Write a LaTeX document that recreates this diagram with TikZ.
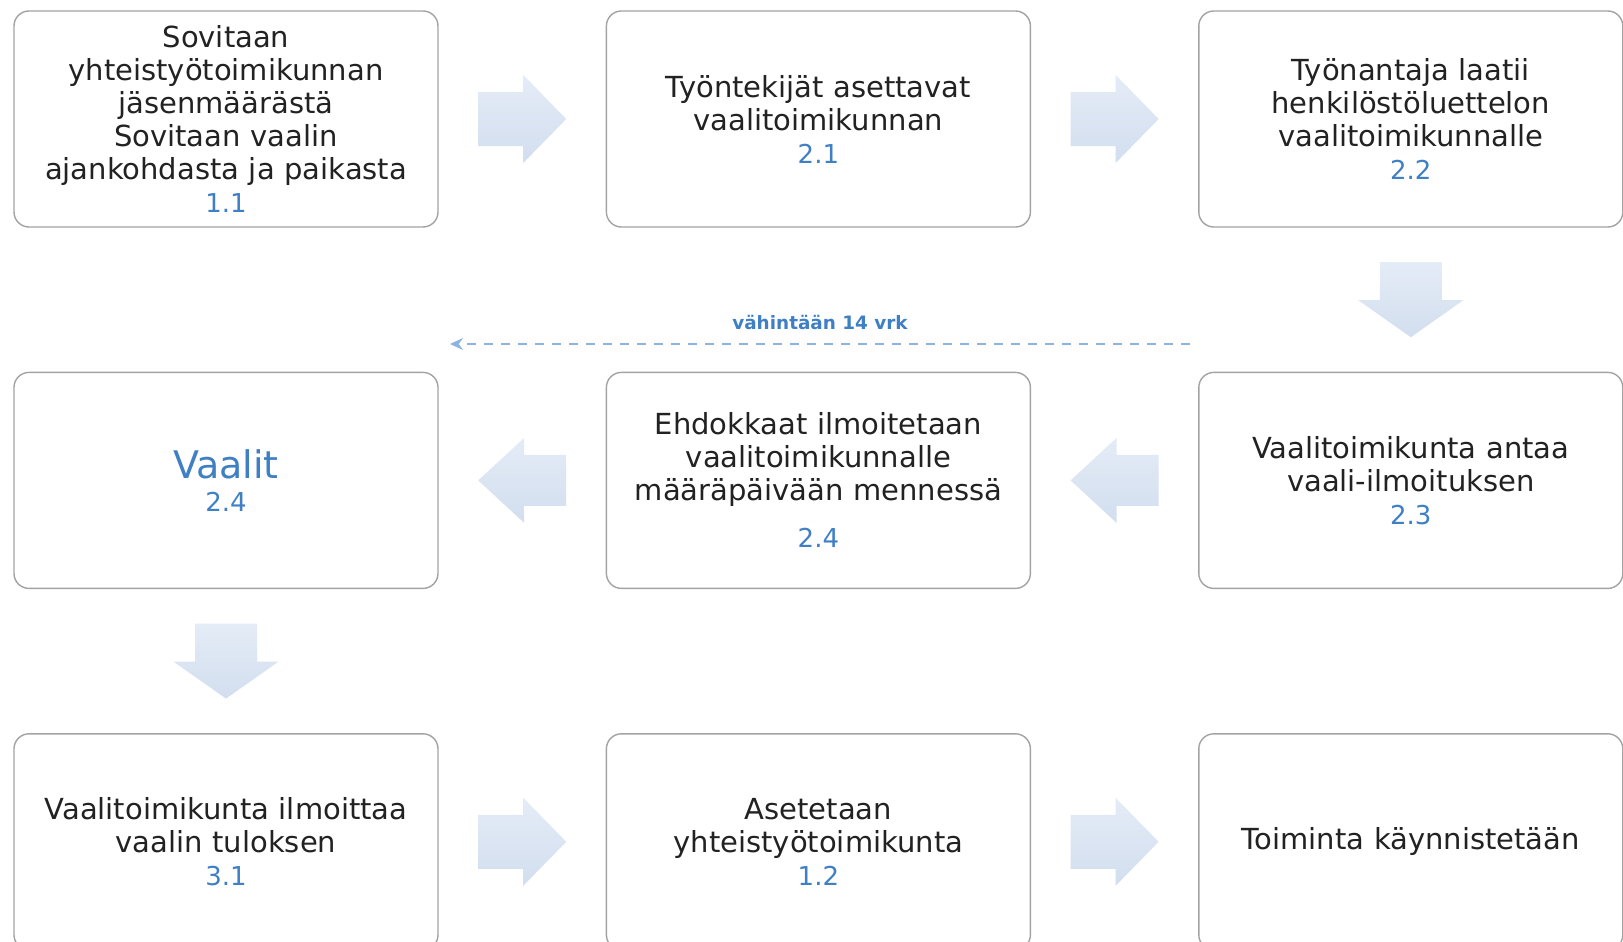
\documentclass[tikz,border=0pt]{standalone}
\usepackage{fontspec}
\setmainfont{DejaVu Sans}
\usepackage{tikz}
\usetikzlibrary{arrows.meta,positioning,calc}
\definecolor{reuna}{HTML}{A3A3A3}
\definecolor{teksti}{HTML}{222222}
\definecolor{nrosin}{HTML}{3F7FC4}
\definecolor{nuolivaal}{HTML}{E4ECF6}
\definecolor{nuolitum}{HTML}{D2DEEF}
\definecolor{katko}{HTML}{8DB3E2}
\newcommand{\nro}[1]{{\fontsize{13}{16.5}\selectfont\color{nrosin}#1}}
\tikzset{
  laatikko/.style={rectangle, rounded corners=7.5pt, draw=reuna, line width=0.7pt, fill=white,
                   text=teksti, align=center, text width=208pt, minimum width=212pt,
                   minimum height=108pt, inner sep=0pt, font=\fontsize{14.5}{16.5}\selectfont},
  nuolivari/.style={top color=nuolivaal, bottom color=nuolitum, draw=none},
  nuoliO/.pic={\shade[nuolivari] (-44,-27) -- (1,-27) -- (1,-44) -- (44,0) -- (1,44) -- (1,27) -- (-44,27) -- cycle;},
  nuoliV/.pic={\shade[nuolivari] (44,-25.5) -- (2,-25.5) -- (2,-42.5) -- (-44,0) -- (2,42.5) -- (2,25.5) -- (44,25.5) -- cycle;},
  nuoliA/.pic={\shade[nuolivari] (-31,37.5) -- (31,37.5) -- (31,-0.5) -- (52.5,-0.5) -- (0,-37.5) -- (-52.5,-0.5) -- (-31,-0.5) -- cycle;},
  katkoviiva/.style={-{Stealth[length=6.5pt,width=6pt]}, line width=1pt, draw=katko,
                     dash pattern=on 4.5pt off 4pt},
}

\begin{document}
\begin{tikzpicture}[x=0.5pt, y=0.5pt, node distance=72pt and 83.5pt]
  \useasboundingbox (0,0) rectangle (1623,-942);
  \fill[white] (0,0) rectangle (1623,-942);
  % rivi 1
  \node[laatikko] (a1) at (226,-119)
    {Sovitaan\\yhteistyötoimikunnan\\jäsenmäärästä\\Sovitaan vaalin\\ajankohdasta ja paikasta\\\nro{1.1}};
  \node[laatikko, right=of a1] (a2) {Työntekijät asettavat\\vaalitoimikunnan\\\nro{2.1}};
  \node[laatikko, right=of a2] (a3) {Työnantaja laatii\\henkilöstöluettelon\\vaalitoimikunnalle\\\nro{2.2}};
  % rivi 2
  \node[laatikko, below=of a3] (b3) {Vaalitoimikunta antaa\\vaali-ilmoituksen\\\nro{2.3}};
  \node[laatikko, below=of a2] (b2)
    {Ehdokkaat ilmoitetaan\\vaalitoimikunnalle\\määräpäivään mennessä\\[7pt]\nro{2.4}};
  \node[laatikko, below=of a1] (b1) {{\fontsize{19}{22}\selectfont\color{nrosin}Vaalit}\\[0pt]\nro{2.4}};
  % rivi 3
  \node[laatikko, below=of b1] (c1) {Vaalitoimikunta ilmoittaa\\vaalin tuloksen\\\nro{3.1}};
  \node[laatikko, right=of c1] (c2) {Asetetaan\\yhteistyötoimikunta\\\nro{1.2}};
  \node[laatikko, right=of c2] (c3) {Toiminta käynnistetään};
  % nuolet
  \pic (n12) at ($(a1.east)!0.5!(a2.west)$) {nuoliO};
  \pic (n23) at ($(a2.east)!0.5!(a3.west)$) {nuoliO};
  \pic (n33) at ($(a3.south)!0.5!(b3.north)$) {nuoliA};
  \pic (n32) at ($(b3.west)!0.5!(b2.east)$) {nuoliV};
  \pic (n21) at ($(b2.west)!0.5!(b1.east)$) {nuoliV};
  \pic (n11) at ($(b1.south)!0.5!(c1.north)$) {nuoliA};
  \pic (m12) at ($(c1.east)!0.5!(c2.west)$) {nuoliO};
  \pic (m23) at ($(c2.east)!0.5!(c3.west)$) {nuoliO};
  % katkoviiva
  \coordinate (kAlku) at (1190,-344);
  \coordinate (kLoppu) at (450,-344);
  \draw[katkoviiva] (kAlku) -- node[above=3.5pt, text=nrosin, font=\bfseries\fontsize{9.2}{11}\selectfont] (raja)
    {vähintään 14 vrk} (kLoppu);
\end{tikzpicture}
\end{document}
